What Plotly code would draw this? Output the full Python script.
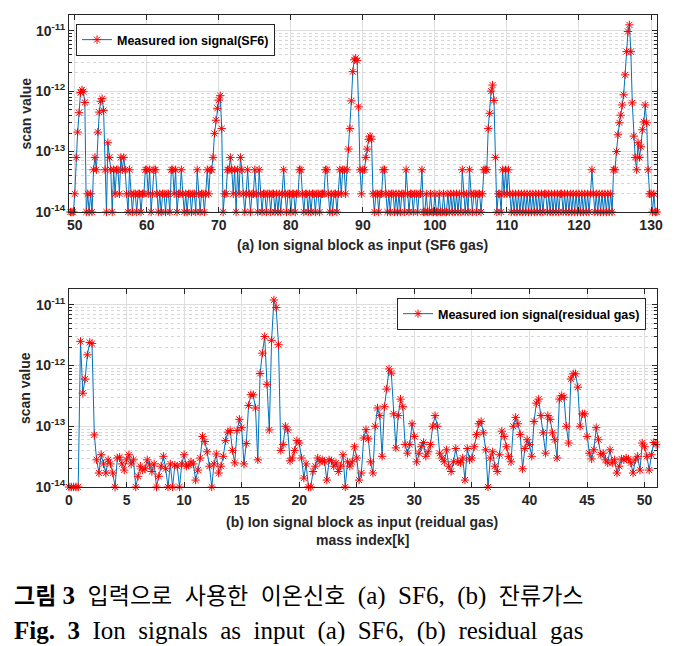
import plotly.graph_objects as go

# ---------------- data (signal values are in units of 1e-14) ----------------
SIGNAL_UNIT = 1e-14

sf6_mass_start = 49.4
sf6_mass_step = 0.2
sf6_signal_units = [
    1, 1, 1,                    # 49.4 - 49.8
    2, 8, 21, 44, 95,           # 50
    105, 98, 65, 1, 2,          # 51
    1, 2, 1, 5, 8,              # 52
    5, 21, 45, 68, 75,          # 53
    48, 5, 1, 14, 8,            # 54
    5, 1, 5, 2, 5,              # 55
    5, 2, 8, 5, 8,              # 56
    5, 2, 1, 5, 2,              # 57
    1, 2, 2, 1, 2,              # 58
    2, 1, 2, 2, 5,              # 59
    5, 2, 5, 1, 2,              # 60
    5, 5, 2, 1, 2,              # 61
    1, 2, 2, 1, 2,              # 62
    2, 1, 5, 5, 2,              # 63
    5, 1, 2, 2, 5,              # 64
    2, 1, 2, 1, 2,              # 65
    2, 1, 2, 2, 1,              # 66
    5, 2, 1, 2, 2,              # 67
    1, 2, 5, 2, 5,              # 68
    5, 8, 20, 33, 52,           # 69
    71, 84, 24, 1, 2,           # 70
    2, 5, 5, 8, 5,              # 71
    2, 5, 1, 5, 2,              # 72
    8, 5, 2, 1, 2,              # 73
    5, 2, 1, 2, 2,              # 74
    5, 2, 1, 5, 2,              # 75
    1, 2, 2, 1, 2,              # 76
    2, 1, 2, 2, 1,              # 77
    2, 1, 2, 1, 2,              # 78
    5, 2, 1, 2, 2,              # 79
    1, 2, 2, 1, 2,              # 80
    2, 5, 5, 2, 1,              # 81
    2, 2, 1, 2, 1,              # 82
    2, 2, 1, 2, 2,              # 83
    1, 2, 2, 2, 5,              # 84
    5, 2, 1, 2, 1,              # 85
    2, 2, 1, 2, 5,              # 86
    2, 5, 5, 2, 5,              # 87
    11, 24, 69, 210, 330,       # 88
    350, 320, 55, 5, 2,         # 89
    5, 5, 8, 11, 16,            # 90
    18, 16, 2, 1, 2,            # 91
    2, 1, 2, 2, 5,              # 92
    5, 2, 1, 2, 1,              # 93
    2, 2, 1, 2, 1,              # 94
    2, 1, 2, 2, 1,              # 95
    5, 2, 1, 2, 2,              # 96
    1, 2, 2, 1, 2,              # 97
    2, 5, 1, 1, 2,              # 98
    1, 1, 2, 1, 1,              # 99
    2, 1, 1, 2, 1,              # 100
    1, 2, 1, 1, 2,              # 101
    1, 2, 1, 2, 1,              # 102
    2, 1, 2, 1, 5,              # 103
    2, 1, 2, 1, 5,              # 104
    2, 1, 2, 2, 1,              # 105
    2, 2, 1, 2, 5,              # 106
    5, 5, 24, 43, 100,          # 107
    126, 70, 8, 1, 2,           # 108
    2, 1, 5, 2, 5,              # 109
    2, 5, 2, 1, 2,              # 110
    1, 2, 1, 2, 1,              # 111
    2, 1, 2, 1, 2,              # 112
    1, 2, 1, 2, 1,              # 113
    2, 1, 2, 1, 2,              # 114
    1, 2, 2, 1, 2,              # 115
    1, 2, 1, 2, 1,              # 116
    2, 1, 2, 2, 1,              # 117
    2, 1, 2, 1, 2,              # 118
    1, 2, 1, 2, 1,              # 119
    2, 1, 2, 1, 2,              # 120
    1, 2, 1, 2, 5,              # 121
    2, 1, 2, 1, 2,              # 122
    1, 2, 1, 2, 1,              # 123
    2, 1, 2, 1, 5,              # 124
    5, 10, 19, 30, 40,          # 125
    59, 87, 186, 450, 970,      # 126
    1250, 450, 64, 18, 8,       # 127
    5, 14, 8, 12, 23,           # 128
    31, 59, 30, 5, 2,           # 129
    2, 1, 2, 1, 1,              # 130
]

gas_mass_start = 0.0
gas_mass_step = 0.2
gas_signal_units = [
    1, 1, 1, 1, 1,              # 0
    250, 35, 60, 150, 240,      # 1
    230, 7.2, 2.8, 1.7, 3.4,    # 2
    2.4, 1.7, 2.8, 2.4, 1.7,    # 3
    1.0, 3.0, 3.1, 2.4, 1.9,    # 4
    2.8, 3.4, 2.4, 2.8, 1.0,    # 5
    1.5, 2.2, 1.9, 2.0, 2.8,    # 6
    2.3, 1.8, 2.4, 1.0, 1.5,    # 7
    2.2, 3.2, 2.0, 1.0, 2.4,    # 8
    1.0, 2.3, 2.2, 1.0, 2.4,    # 9
    3.4, 2.2, 2.3, 2.6, 2.4,    # 10
    1.3, 1.9, 3.0, 6.8, 5.6,    # 11
    3.8, 2.2, 1.0, 2.4, 3.5,    # 12
    1.7, 2.2, 3.2, 5.8, 8.0,    # 13
    8.5, 4.0, 2.5, 8.5, 13,     # 14
    9.5, 2.4, 5.2, 22, 33,      # 15
    33, 20, 2.8, 74, 160,       # 16
    300, 49, 8.7, 260, 1200,    # 17
    900, 220, 4.0, 5.0, 10,     # 18
    8.7, 2.7, 3.0, 4.0, 5.8,    # 19
    5.3, 3.0, 1.4, 2.4, 1.0,    # 20
    1.0, 1.8, 2.2, 3.0, 2.6,    # 21
    2.8, 2.6, 1.3, 2.8, 2.7,    # 22
    2.2, 2.5, 1.8, 2.2, 3.4,    # 23
    1.0, 2.6, 2.2, 2.6, 4.6,    # 24
    3.0, 1.3, 1.7, 6.4, 8.8,    # 25
    6.2, 2.6, 1.7, 10, 20,      # 26
    15, 3.2, 21, 41, 88,        # 27
    75, 16, 4.4, 15, 28,        # 28
    21, 5.0, 3.6, 5.0, 11,      # 29
    6.8, 2.6, 3.6, 4.6, 5.4,    # 30
    3.2, 3.8, 5.0, 10, 15,      # 31
    10, 3.6, 3.0, 2.6, 4.1,     # 32
    2.2, 1.8, 2.6, 4.3, 2.6,    # 33
    2.5, 3.0, 1.3, 4.3, 2.8,    # 34
    3.0, 4.6, 7.3, 11, 12,      # 35
    7.8, 4.1, 1.0, 3.0, 3.8,    # 36
    2.2, 1.8, 3.4, 8.3, 6.8,    # 37
    4.6, 3.2, 2.6, 10, 14,      # 38
    11, 7.3, 2.0, 4.3, 6.0,     # 39
    5.0, 3.2, 12, 24, 28,       # 40
    15, 7.8, 3.6, 15, 13,       # 41
    7.8, 6.0, 3.0, 28, 32,      # 42
    30, 10, 5.3, 60, 73,        # 43
    73, 44, 10, 16, 16,         # 44
    6.8, 3.6, 2.9, 4.1, 9.5,    # 45
    6.0, 3.4, 3.6, 2.8, 2.5,    # 46
    4.1, 2.5, 2.8, 1.7, 2.2,    # 47
    2.9, 2.8, 3.0, 2.9, 2.5,    # 48
    1.7, 2.8, 3.2, 1.9, 5.3,    # 49
    4.6, 3.2, 1.9, 3.4, 5.4,    # 50
    5.0,                        # 51
]

sf6_x_ticks = [50, 60, 70, 80, 90, 100, 110, 120, 130]
gas_x_ticks = [0, 5, 10, 15, 20, 25, 30, 35, 40, 45, 50]
y_tick_vals = [1e-14, 1e-13, 1e-12, 1e-11]
y_tick_text = ["10<sup>-14</sup>", "10<sup>-13</sup>", "10<sup>-12</sup>", "10<sup>-11</sup>"]
y_minor_vals = [m * d for d in (1e-14, 1e-13, 1e-12, 1e-11) for m in range(2, 10)]

sf6_mass = [sf6_mass_start + i * sf6_mass_step for i in range(len(sf6_signal_units))]
sf6_signal = [v * SIGNAL_UNIT for v in sf6_signal_units]
gas_mass = [gas_mass_start + i * gas_mass_step for i in range(len(gas_signal_units))]
gas_signal = [v * SIGNAL_UNIT for v in gas_signal_units]

# ---------------- figure ----------------
W, H = 679, 646
def fx(p):
    return p / W
def fy(p):
    return 1 - p / H

SANS = "Liberation Sans, Arial, sans-serif"
SERIF = "Liberation Serif, Noto Sans CJK KR, serif"
DARK = "#262626"
LINE_BLUE = "#0072BD"
STAR_RED = "#FF0000"

marker_style = dict(symbol="asterisk-open", size=7, color=STAR_RED,
                    line=dict(color=STAR_RED, width=1))

fig = go.Figure()
fig.add_trace(go.Scatter(
    x=sf6_mass, y=sf6_signal, mode="lines+markers",
    name="Measured ion signal(SF6)",
    line=dict(color=LINE_BLUE, width=1), marker=marker_style,
    xaxis="x", yaxis="y", cliponaxis=False, legend="legend"))
fig.add_trace(go.Scatter(
    x=gas_mass, y=gas_signal, mode="lines+markers",
    name="Measured ion signal(residual gas)",
    line=dict(color=LINE_BLUE, width=1), marker=marker_style,
    xaxis="x2", yaxis="y2", cliponaxis=False, legend="legend2"))

tickfont = dict(family=SANS, size=14, color=DARK, weight="bold")
common = dict(showline=True, linecolor=DARK, linewidth=1, mirror="allticks",
              ticks="inside", ticklen=5, tickcolor=DARK, tickwidth=1,
              showgrid=True, gridcolor="#dedede", gridwidth=1, zeroline=False,
              automargin=False, tickfont=tickfont)

yaxis_common = dict(common, type="log", range=[-14, -10.74],
                    tickmode="array", tickvals=y_tick_vals, ticktext=y_tick_text,
                    minor=dict(tickmode="array", tickvals=y_minor_vals,
                               ticks="inside", ticklen=3, tickcolor=DARK,
                               showgrid=True, gridcolor="#d6d6d6", griddash="dot"))

legend_font = dict(family=SANS, size=12.5, color="#000000", weight="bold")
fig.update_layout(
    width=W, height=H,
    margin=dict(l=0, r=0, t=0, b=0),
    paper_bgcolor="white", plot_bgcolor="white",
    showlegend=True,
    xaxis=dict(common, domain=[fx(69), fx(657)], range=[49.2, 130.83],
               tickmode="array", tickvals=sf6_x_ticks, anchor="y"),
    yaxis=dict(yaxis_common, domain=[fy(212), fy(15)], anchor="x"),
    xaxis2=dict(common, domain=[fx(69), fx(657)], range=[0, 51.08],
                tickmode="array", tickvals=gas_x_ticks, anchor="y2"),
    yaxis2=dict(yaxis_common, domain=[fy(487), fy(289)], anchor="x2"),
    legend=dict(x=fx(76), y=fy(24), xanchor="left", yanchor="top",
                bgcolor="white", bordercolor=DARK, borderwidth=1,
                font=legend_font, itemwidth=30, tracegroupgap=0),
    legend2=dict(x=fx(646), y=fy(298), xanchor="right", yanchor="top",
                 bgcolor="white", bordercolor=DARK, borderwidth=1,
                 font=legend_font, itemwidth=30, tracegroupgap=0),
)

label_font = dict(family=SANS, size=14, color=DARK, weight="bold")
ann = [
    dict(x=fx(25), y=fy(113.5), text="scan value", textangle=-90, font=label_font),
    dict(x=fx(25), y=fy(388), text="scan value", textangle=-90, font=label_font),
    dict(x=fx(362), y=fy(245), text="(a) Ion signal block as input (SF6 gas)", font=label_font),
    dict(x=fx(362), y=fy(522), text="(b) Ion signal block as input (reidual gas)", font=label_font),
    dict(x=fx(362), y=fy(540), text="mass index[k]", font=label_font),
]
NB = "\u00a0"
def ko(s):
    return '<span style="font-size:23px">' + s + "</span>"
cap_ko = ("<b>" + ko("그림") + NB + "3</b>" + NB * 2 + ko("입력으로") + NB * 2 + ko("사용한")
          + NB * 2 + ko("이온신호") + NB * 2 + "(a)" + NB * 2 + "SF6," + NB * 2 + "(b)"
          + NB * 2 + ko("잔류가스"))
cap_en = ("<b>Fig." + NB * 2 + "3</b>" + NB * 2 + "Ion" + NB * 2 + "signals" + NB * 2 + "as"
          + NB * 2 + "input" + NB * 2 + "(a)" + NB * 2 + "SF6," + NB * 2 + "(b)" + NB * 2
          + "residual" + NB * 2 + "gas")
ann.append(dict(x=fx(12), y=fy(596), text=cap_ko, xanchor="left",
                font=dict(family=SERIF, size=25, color="#000000")))
ann.append(dict(x=fx(12), y=fy(631), text=cap_en, xanchor="left",
                font=dict(family=SERIF, size=25, color="#000000")))
for a in ann:
    a.setdefault("xanchor", "center")
    a.update(xref="paper", yref="paper", yanchor="middle", showarrow=False)
fig.update_layout(annotations=ann)

fig.write_html("out.html", config={"displayModeBar": False},
               post_script="document.body.style.margin='0px';")
